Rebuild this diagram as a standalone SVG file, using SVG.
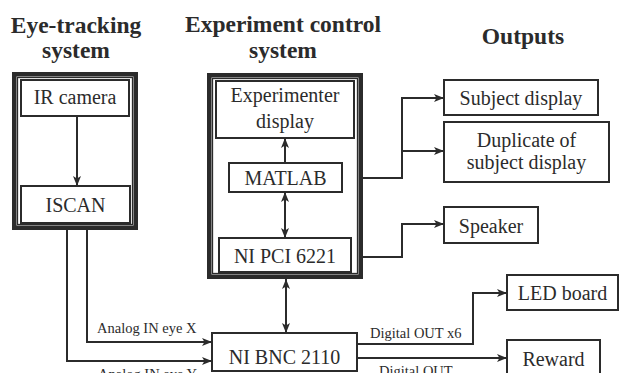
<svg xmlns="http://www.w3.org/2000/svg" width="626" height="373" viewBox="0 0 626 373">
<style>
text{font-family:"Liberation Serif","Times New Roman",serif;fill:#2b2b2b}
.title{font-size:23.5px;font-weight:bold;text-anchor:middle}
.node{font-size:20px;text-anchor:middle}
.lbl{font-size:14.5px}
.box{fill:#fff;stroke:#2b2b2b;stroke-width:2}
.frame{fill:#fff;stroke:#2b2b2b;stroke-width:4.5}
.inner{fill:none;stroke:#2b2b2b;stroke-width:1.3}
.c{fill:none;stroke:#2b2b2b;stroke-width:2}
</style>
<defs>
<marker id="ah" markerUnits="userSpaceOnUse" markerWidth="10" markerHeight="8" viewBox="0 0 10 8" refX="10" refY="4" orient="auto-start-reverse">
<path d="M0,0 L10,4 L0,8 L2.5,4 z" fill="#2b2b2b"/>
</marker>
</defs>
<rect width="626" height="373" fill="#fff"/>
<g id="titles">
<text class="title" x="76" y="33">Eye-tracking</text>
<text class="title" x="76" y="58">system</text>
<text class="title" x="283" y="32">Experiment control</text>
<text class="title" x="283" y="58">system</text>
<text class="title" x="523" y="44">Outputs</text>
</g>
<g id="eye-tracking-system">
<rect class="frame" x="14.25" y="74.25" width="121.5" height="153.5"/>
<rect class="inner" x="17.5" y="77.5" width="115" height="147"/>
</g>
<g id="experiment-control-system">
<rect class="frame" x="209.25" y="75.25" width="151.5" height="201.5"/>
<rect class="inner" x="212.5" y="78.5" width="145" height="195"/>
</g>
<g id="ir-camera">
<rect class="box" x="21" y="80" width="108" height="36"/>
<text class="node" x="75" y="104">IR camera</text>
</g>
<g id="iscan">
<rect class="box" x="21" y="186" width="109" height="37"/>
<text class="node" x="75.5" y="212">ISCAN</text>
</g>
<g id="experimenter-display">
<rect class="box" x="216" y="81" width="138" height="57"/>
<text class="node" x="285" y="102">Experimenter</text>
<text class="node" x="285" y="128">display</text>
</g>
<g id="matlab">
<rect class="box" x="229" y="163" width="113" height="29"/>
<text class="node" x="285.5" y="185">MATLAB</text>
</g>
<g id="ni-pci-6221">
<rect class="box" x="219" y="238" width="132" height="34"/>
<text class="node" x="285" y="263">NI PCI 6221</text>
</g>
<g id="subject-display">
<rect class="box" x="444" y="80" width="154" height="35"/>
<text class="node" x="521" y="105">Subject display</text>
</g>
<g id="duplicate-display">
<rect class="box" x="444" y="122" width="165" height="60"/>
<text class="node" x="526.5" y="147">Duplicate of</text>
<text class="node" x="526.5" y="169">subject display</text>
</g>
<g id="speaker">
<rect class="box" x="444" y="207" width="94" height="36"/>
<text class="node" x="491" y="233">Speaker</text>
</g>
<g id="led-board">
<rect class="box" x="507" y="275" width="111" height="35"/>
<text class="node" x="562.5" y="300">LED board</text>
</g>
<g id="reward">
<rect class="box" x="507" y="340" width="93" height="40"/>
<text class="node" x="553.5" y="366">Reward</text>
</g>
<g id="ni-bnc-2110">
<rect class="box" x="212" y="333" width="145" height="38"/>
<text class="node" x="284.5" y="364">NI BNC 2110</text>
</g>
<g id="connectors">
<path class="c" d="M77,116 V186" marker-end="url(#ah)"/>
<path class="c" d="M285,163 V138" marker-end="url(#ah)"/>
<path class="c" d="M285,192 V238" marker-start="url(#ah)" marker-end="url(#ah)"/>
<path class="c" d="M286,279 V333" marker-start="url(#ah)" marker-end="url(#ah)"/>
<path class="c" d="M363,178 H402 V98 H444" marker-end="url(#ah)"/>
<path class="c" d="M402,151 H444" marker-end="url(#ah)"/>
<path class="c" d="M363,257 H402 V224 H444" marker-end="url(#ah)"/>
<path class="c" d="M87,230 V342 H212" marker-end="url(#ah)"/>
<path class="c" d="M67,230 V361 H212" marker-end="url(#ah)"/>
<path class="c" d="M357,344 H473 V293 H507" marker-end="url(#ah)"/>
<path class="c" d="M357,358 H507" marker-end="url(#ah)"/>
<text class="lbl" x="97" y="333">Analog IN eye X</text>
<text class="lbl" x="98" y="379">Analog IN eye Y</text>
<text class="lbl" x="370" y="338">Digital OUT x6</text>
<text class="lbl" x="379" y="376">Digital OUT</text>
</g>
</svg>
